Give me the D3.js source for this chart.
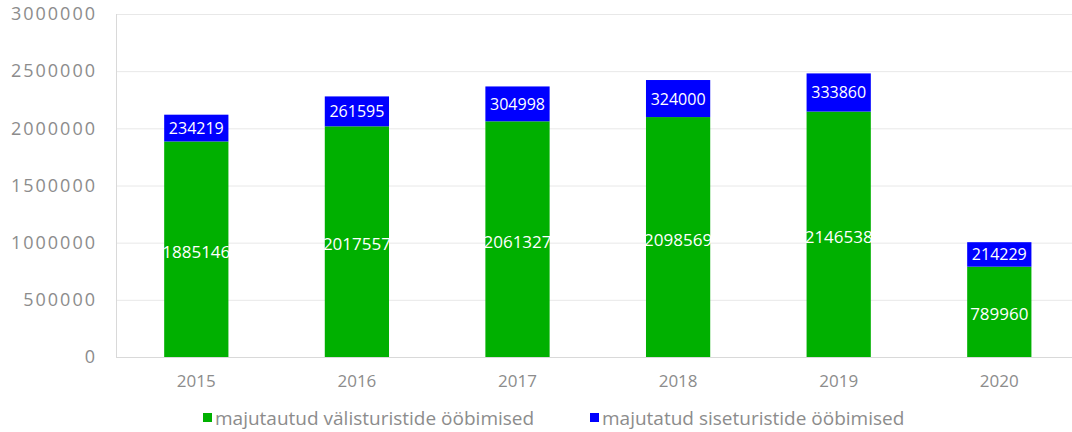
<!DOCTYPE html>
<html><head><meta charset="utf-8">
<script src="https://cdn.jsdelivr.net/npm/d3@7"></script>
<style>body{margin:0;background:#fff}svg{display:block}text{font-family:"Open Sans",sans-serif}</style>
</head><body><svg id="c" width="1072" height="432"></svg>
<script>
const years = ["2015","2016","2017","2018","2019","2020"];
const foreign = [1885146,2017557,2061327,2098569,2146538,789960];
const domestic = [234219,261595,304998,324000,333860,214229];
const seriesNames = ["majutautud välisturistide ööbimised","majutatud siseturistide ööbimised"];
const colors = ["#00b000","#0000ff"];
const yTicks = [0,500000,1000000,1500000,2000000,2500000,3000000];

const svg = d3.select("#c");
const L=116, R=1079.6, T=14, B=357;
const x = d3.scaleBand().domain(years).range([L,R]).paddingInner(0.6).paddingOuter(0.3);
const y = d3.scaleLinear().domain([0,3000000]).range([B,T]);

const grid = svg.append("g");
grid.selectAll("line").data(yTicks).join("line")
  .attr("x1",L).attr("x2",R).attr("y1",d=>y(d)+0.5).attr("y2",d=>y(d)+0.5)
  .attr("stroke",d=>d===0?"#d9d9d9":"#e8e8e8").attr("stroke-width",1);
svg.append("line").attr("x1",L+0.5).attr("x2",L+0.5).attr("y1",T).attr("y2",B)
  .attr("stroke","#d9d9d9");

const yAxis = d3.axisLeft(y).tickValues(yTicks).tickSize(0).tickPadding(19).tickFormat(d3.format("d"));
const ga = svg.append("g").attr("transform",`translate(${L},0)`).call(yAxis);
ga.select(".domain").remove();
ga.selectAll("text").attr("fill","#8c8c8c").attr("font-size",18).attr("letter-spacing",2)
  .attr("font-family","Open Sans, sans-serif");

const xAxis = d3.axisBottom(x).tickSize(0).tickPadding(18);
const gx = svg.append("g").attr("transform",`translate(0,${B})`).call(xAxis);
gx.select(".domain").remove();
gx.selectAll("text").attr("fill","#8c8c8c").attr("font-size",17).attr("font-family","Open Sans, sans-serif");

const data = years.map((yr,i)=>({yr,f:foreign[i],d:domestic[i]}));
const g = svg.append("g");
g.selectAll(".f").data(data).join("rect")
  .attr("x",d=>x(d.yr)).attr("width",x.bandwidth())
  .attr("y",d=>y(d.f)).attr("height",d=>y(0)-y(d.f)).attr("fill",colors[0]);
g.selectAll(".d").data(data).join("rect")
  .attr("x",d=>x(d.yr)).attr("width",x.bandwidth())
  .attr("y",d=>y(d.f+d.d)).attr("height",d=>y(d.f)-y(d.f+d.d)).attr("fill",colors[1]);

g.selectAll(".fl").data(data).join("text")
  .attr("x",d=>x(d.yr)+x.bandwidth()/2).attr("y",d=>y(d.f/2)+2)
  .attr("text-anchor","middle").attr("dominant-baseline","central")
  .attr("fill","#fff").attr("font-size",17).text(d=>d.f);
g.selectAll(".dl").data(data).join("text")
  .attr("x",d=>x(d.yr)+x.bandwidth()/2).attr("y",d=>y(d.f+d.d/2))
  .attr("text-anchor","middle").attr("dominant-baseline","central")
  .attr("fill","#fff").attr("font-size",16).text(d=>d.d);

const legX=[203,590];
const lg = svg.append("g");
seriesNames.forEach((n,i)=>{
  lg.append("rect").attr("x",legX[i]).attr("y",413).attr("width",9).attr("height",9).attr("fill",colors[i]);
  lg.append("text").attr("x",legX[i]+12).attr("y",418).attr("dominant-baseline","central")
    .attr("fill","#8c8c8c").attr("font-size",19).text(n);
});
</script></body></html>
